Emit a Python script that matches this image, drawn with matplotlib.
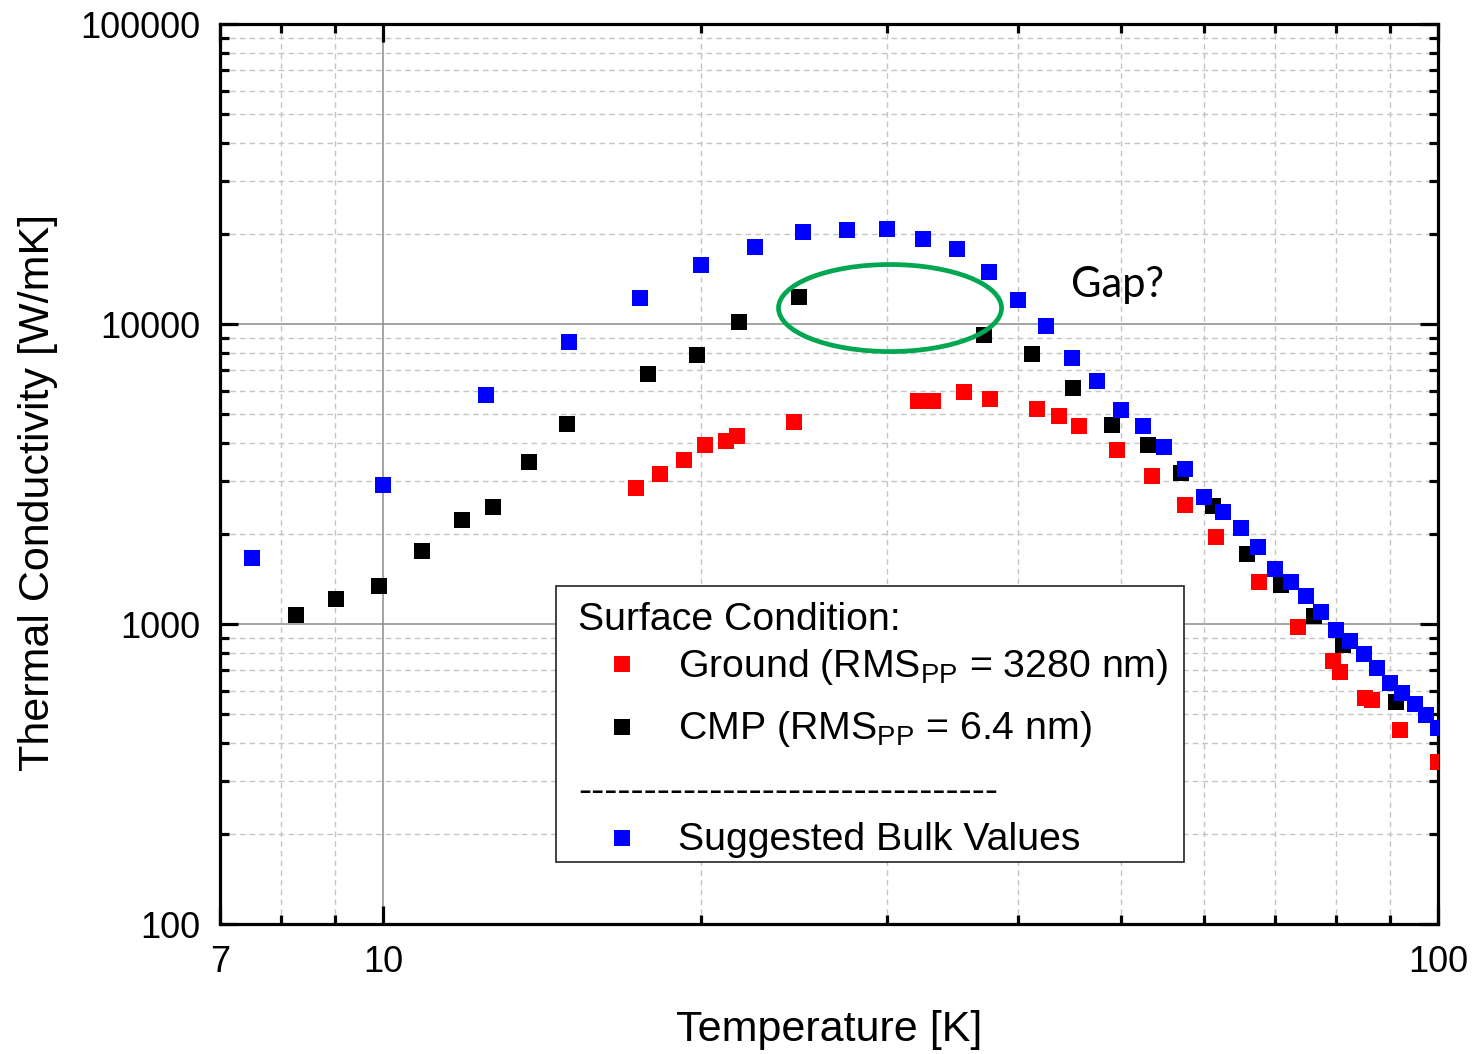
import matplotlib
matplotlib.use("Agg")
import matplotlib.pyplot as plt
from matplotlib.patches import Ellipse, Rectangle
from matplotlib.ticker import FixedLocator, FuncFormatter, LogLocator, NullFormatter

plt.rcParams['font.family'] = ['Liberation Sans', 'DejaVu Sans']
plt.rcParams['mathtext.fontset'] = 'custom'
plt.rcParams['mathtext.rm'] = 'Liberation Sans'

# suggested bulk values (blue)
T_bulk = [7.5, 10, 12.5, 15, 17.5, 20, 22.5, 25, 27.5, 30, 32.5, 35, 37.5, 40,
          42.5, 45, 47.5, 50, 52.5, 55, 57.5, 60, 62.5, 65, 67.5, 70, 72.5, 75,
          77.5, 80, 82.5, 85, 87.5, 90, 92.5, 95, 97.5, 100]
k_bulk = [1660, 2900, 5800, 8700, 12200, 15700, 18100, 20300, 20600, 20800,
          19200, 17800, 14900, 12000, 9850, 7700, 6460, 5170, 4570, 3890,
          3290, 2650, 2360, 2090, 1806, 1525, 1380, 1240, 1096, 955,
          878, 794, 713, 636, 589, 541, 497, 450]

# CMP surface (black)
T_cmp = [8.26, 9.02, 9.91, 10.87, 11.87, 12.7, 13.75, 14.93, 17.83, 19.84,
         21.76, 24.8, 37.14, 41.2, 45.1, 49.1, 53.1, 57.1, 61.2, 65.95,
         71.0, 76.2, 81.2, 91.2]
k_cmp = [1072, 1213, 1342, 1751, 2217, 2455, 3460, 4650, 6820, 7870,
         10150, 12330, 9160, 7960, 6120, 4610, 3950, 3180, 2475, 1711,
         1346, 1063, 853, 548]

# ground surface (red)
T_gnd = [17.36, 18.3, 19.28, 20.17, 21.13, 21.65, 24.5, 32.15, 33.2, 35.5,
         37.6, 41.7, 43.7, 45.7, 49.6, 53.6, 57.5, 61.6, 67.6, 73.7,
         79.6, 80.8, 85.3, 86.6, 92.1, 100]
k_gnd = [2840, 3160, 3520, 3950, 4085, 4235, 4710, 5540, 5540, 5930,
         5640, 5210, 4940, 4570, 3800, 3115, 2488, 1950, 1383, 975,
         753, 693, 565, 558, 443, 347]

x_major = [7, 10, 100]
x_minor = [8, 9, 20, 30, 40, 50, 60, 70, 80, 90]
y_major = [100, 1000, 10000, 100000]

fig = plt.figure(figsize=(14.76, 10.54), dpi=100)
ax = fig.add_axes([220/1476, 1 - 924/1054, 1218/1476, 900/1054])

ms = 11
ax.plot(T_cmp, k_cmp, 's', color='black', ms=ms, mew=0, zorder=3)
ax.plot(T_gnd, k_gnd, 's', color='#ff0000', ms=ms, mew=0, zorder=3)
ax.plot(T_bulk, k_bulk, 's', color='#0000ff', ms=ms, mew=0, zorder=3)

ax.set_xscale('log')
ax.set_yscale('log')
ax.set_xlim(7, 100)
ax.set_ylim(100, 100000)

ax.xaxis.set_major_locator(FixedLocator(x_major))
ax.xaxis.set_minor_locator(FixedLocator(x_minor))
ax.xaxis.set_major_formatter(FuncFormatter(lambda v, p: '%d' % round(v)))
ax.xaxis.set_minor_formatter(NullFormatter())
ax.yaxis.set_major_locator(FixedLocator(y_major))
ax.yaxis.set_minor_locator(LogLocator(base=10, subs=range(2, 10)))
ax.yaxis.set_major_formatter(FuncFormatter(lambda v, p: '%d' % round(v)))
ax.yaxis.set_minor_formatter(NullFormatter())

ax.tick_params(which='both', direction='in', top=True, right=True,
               width=2.3, labelsize=26)
ax.tick_params(which='major', length=13)
ax.tick_params(which='minor', length=6.5)
ax.tick_params(axis='x', pad=15)
ax.tick_params(axis='y', pad=14)
for s in ax.spines.values():
    s.set_linewidth(2.3)

ax.grid(which='major', color='#8c8c8c', lw=1.1, zorder=0)
ax.grid(which='minor', color='#c4c4c4', lw=1.0, ls=(0, (4, 3)), zorder=0)
ax.set_axisbelow(True)

ax.set_xlabel('Temperature [K]', fontsize=31)
ax.set_ylabel('Thermal Conductivity [W/mK]', fontsize=31)
ax.xaxis.set_label_coords(0.5, -0.095)
ax.yaxis.set_label_coords(-0.133, 0.479)

# gap annotation
ax.add_patch(Ellipse((0.5501, 0.6844), 0.1831, 0.0967, transform=ax.transAxes,
                     fill=False, edgecolor='#00a650', lw=3.4, zorder=4))
ax.text(0.7373, 0.71, 'Gap?', transform=ax.transAxes, fontsize=30,
        family=['Lato', 'DejaVu Sans'], ha='center', va='center')

# legend box
def fx(px):
    return (px - 220) / 1218

def fy(py):
    return (924 - py) / 900

ax.add_patch(Rectangle((fx(556), fy(862)), fx(1184) - fx(556), fy(586) - fy(862),
                       transform=ax.transAxes, facecolor='white', edgecolor='#222222',
                       lw=1.2, zorder=5))
lfs = 28.3
ax.text(fx(578), fy(630), 'Surface Condition:', transform=ax.transAxes,
        fontsize=lfs, va='baseline', zorder=6)
entries = [('#ff0000', r'Ground (RMS$_{\mathrm{PP}}$ = 3280 nm)', 664, 677),
           ('black', r'CMP (RMS$_{\mathrm{PP}}$ = 6.4 nm)', 727, 739),
           ('#0000ff', 'Suggested Bulk Values', 838, 850)]
for c, lab, my, ty in entries:
    ax.plot([fx(622)], [fy(my)], 's', color=c, ms=ms, mew=0,
            transform=ax.transAxes, zorder=6, clip_on=False)
    ax.text(fx(678), fy(ty), lab, transform=ax.transAxes, fontsize=lfs,
            va='baseline', zorder=6)
ax.text(fx(578), fy(792), '-' * 32, transform=ax.transAxes, fontsize=lfs,
        va='center', zorder=6)

fig.savefig('out.png', dpi=100)
